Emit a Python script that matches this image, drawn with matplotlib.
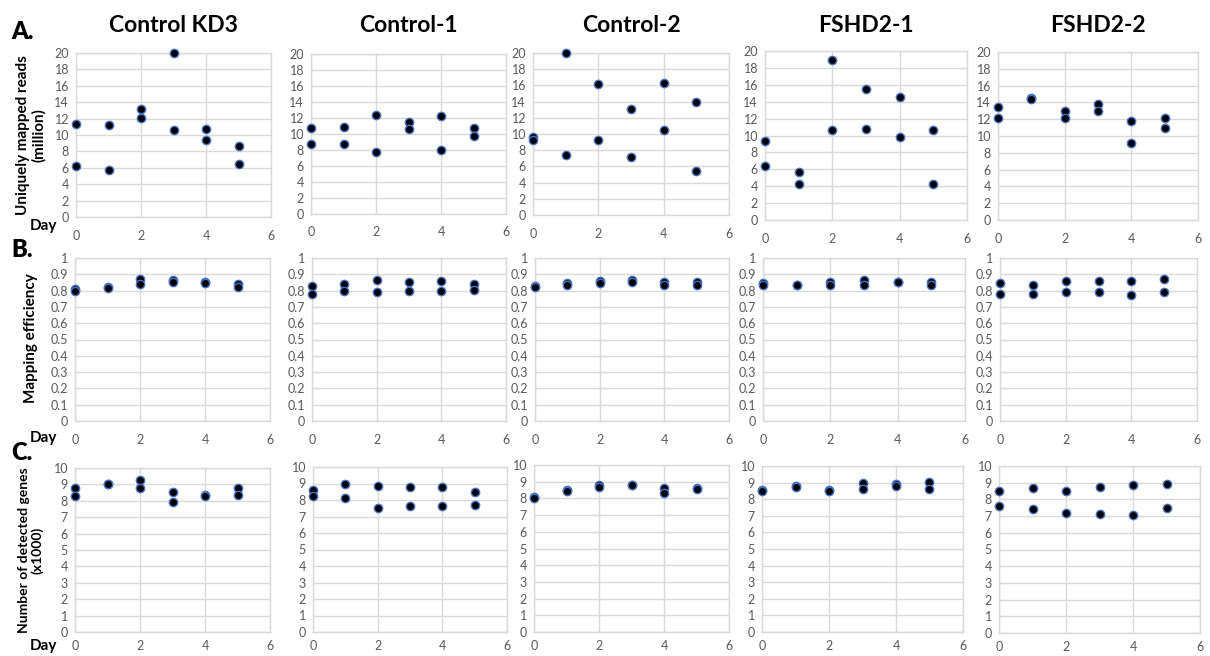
import matplotlib
matplotlib.use("Agg")
import matplotlib.pyplot as plt
import numpy as np

plt.rcParams['font.family'] = ['Lato', 'DejaVu Sans']

samples = ["Control KD3", "Control-1", "Control-2", "FSHD2-1", "FSHD2-2"]
days = [0, 1, 2, 3, 4, 5]

# Uniquely mapped reads (million): two replicates per day
reads_rep1 = {
    "Control KD3": [11.4, 11.2, 13.2, 20.0, 10.7, 8.7],
    "Control-1":   [10.7, 10.9, 12.4, 11.5, 12.2, 10.8],
    "Control-2":   [9.6, 20.0, 16.2, 13.1, 16.3, 13.9],
    "FSHD2-1":     [9.3, 5.7, 18.9, 15.5, 14.5, 10.7],
    "FSHD2-2":     [13.5, 14.5, 13.0, 13.8, 11.8, 12.15],
}
reads_rep2 = {
    "Control KD3": [6.2, 5.7, 12.1, 10.6, 9.4, 6.5],
    "Control-1":   [8.8, 8.75, 7.7, 10.6, 8.0, 9.8],
    "Control-2":   [9.2, 7.4, 9.3, 7.2, 10.5, 5.4],
    "FSHD2-1":     [6.4, 4.3, 10.7, 10.8, 9.8, 4.3],
    "FSHD2-2":     [12.2, 14.45, 12.1, 13.0, 9.2, 11.0],
}

# Mapping efficiency
eff_rep1 = {
    "Control KD3": [0.81, 0.82, 0.87, 0.865, 0.855, 0.84],
    "Control-1":   [0.83, 0.84, 0.863, 0.853, 0.857, 0.843],
    "Control-2":   [0.826, 0.845, 0.86, 0.865, 0.854, 0.854],
    "FSHD2-1":     [0.848, 0.837, 0.854, 0.868, 0.854, 0.854],
    "FSHD2-2":     [0.848, 0.833, 0.858, 0.858, 0.856, 0.87],
}
eff_rep2 = {
    "Control KD3": [0.80, 0.815, 0.84, 0.85, 0.848, 0.825],
    "Control-1":   [0.78, 0.80, 0.79, 0.80, 0.80, 0.806],
    "Control-2":   [0.82, 0.835, 0.845, 0.85, 0.835, 0.837],
    "FSHD2-1":     [0.833, 0.835, 0.833, 0.833, 0.85, 0.833],
    "FSHD2-2":     [0.78, 0.78, 0.79, 0.793, 0.77, 0.793],
}

# Number of detected genes (x1000)
genes_rep1 = {
    "Control KD3": [8.78, 9.04, 9.29, 8.53, 8.35, 8.78],
    "Control-1":   [8.6, 8.97, 8.85, 8.81, 8.77, 8.46],
    "Control-2":   [8.1, 8.5, 8.8, 8.8, 8.6, 8.6],
    "FSHD2-1":     [8.54, 8.78, 8.54, 9.0, 8.92, 9.02],
    "FSHD2-2":     [8.52, 8.66, 8.52, 8.72, 8.84, 8.94],
}
genes_rep2 = {
    "Control KD3": [8.27, 9.0, 8.78, 7.94, 8.3, 8.37],
    "Control-1":   [8.24, 8.12, 7.51, 7.63, 7.63, 7.69],
    "Control-2":   [8.05, 8.45, 8.7, 8.78, 8.35, 8.55],
    "FSHD2-1":     [8.5, 8.76, 8.5, 8.6, 8.8, 8.62],
    "FSHD2-2":     [7.6, 7.42, 7.2, 7.12, 7.06, 7.51],
}

rows = [
    (reads_rep1, reads_rep2, 20, 2, "A.", "Uniquely mapped reads\n(million)"),
    (eff_rep1, eff_rep2, 1, 0.1, "B.", "Mapping efficiency"),
    (genes_rep1, genes_rep2, 10, 1, "C.", "Number of detected genes\n(x1000)"),
]

W, H = 1210, 656
fig = plt.figure(figsize=(W / 100, H / 100), dpi=100)

# pixel boxes for the plot areas: (left, right) per column, (top, bottom) per row
col_x = [
    [(76, 271), (311, 506), (533, 729), (765, 967), (998, 1198)],
    [(75, 270), (312, 506), (535, 729), (763, 965), (1000, 1197)],
    [(75, 270), (313, 507), (534, 729), (762, 963), (999, 1200)],
]
row_y = [
    [(53, 217), (54, 214), (53, 215), (51, 220), (52, 220)],
    [(258, 421), (258, 421), (258, 421), (258, 421), (258, 421)],
    [(468, 632), (467, 632), (465, 632), (466, 632), (466, 633)],
]
xpads = [9, 9, 6]

grid_c = "#D9D9D9"
tick_c = "#595959"

for r, (rep1, rep2, ymax, ystep, letter, ylabel) in enumerate(rows):
    for c, name in enumerate(samples):
        x0, x1 = col_x[r][c]
        yt, yb = row_y[r][c]
        ax = fig.add_axes([x0 / W, 1 - yb / H, (x1 - x0) / W, (yb - yt) / H])
        ax.set_xlim(0, 6)
        ax.set_ylim(0, ymax)
        ax.set_xticks([0, 2, 4, 6])
        yt_vals = np.round(np.arange(0, ymax + ystep / 2, ystep), 2)
        ax.set_yticks(yt_vals)
        if ystep < 1:
            ax.set_yticklabels([("%g" % v) for v in yt_vals])
        ax.grid(True, color=grid_c, linewidth=1)
        ax.set_axisbelow(True)
        for s in ax.spines.values():
            s.set_color(grid_c)
            s.set_linewidth(1)
        ax.tick_params(length=0, labelsize=9, colors=tick_c, pad=5)
        ax.tick_params(axis='x', pad=xpads[r])
        for rep in (rep1, rep2):
            ax.plot(days, rep[name], linestyle='none', marker='o',
                    markersize=6.0, markerfacecolor='black',
                    markeredgecolor='#4472C4', markeredgewidth=1.0,
                    clip_on=False, zorder=3)
        if r == 0:
            fig.text((x0 + x1) / 2 / W, 1 - 25 / H, name, ha='center',
                     va='center', fontsize=16.5, fontweight='bold')

    fig.text(11 / W, 1 - [32, 250, 453][r] / H, letter, ha='left',
             va='center', fontsize=17, fontweight='heavy')
    fig.text(31 / W, 1 - [135, 338, 550][r] / H,
             ylabel, ha='center', va='center', rotation=90,
             fontsize=[11, 11, 10][r], fontweight='bold', linespacing=1.1)
    fig.text(43 / W, 1 - [226, 438, 646][r] / H, "Day", ha='center',
             va='center', fontsize=11, fontweight='bold')

fig.savefig("out.png", dpi=100, facecolor='white')
